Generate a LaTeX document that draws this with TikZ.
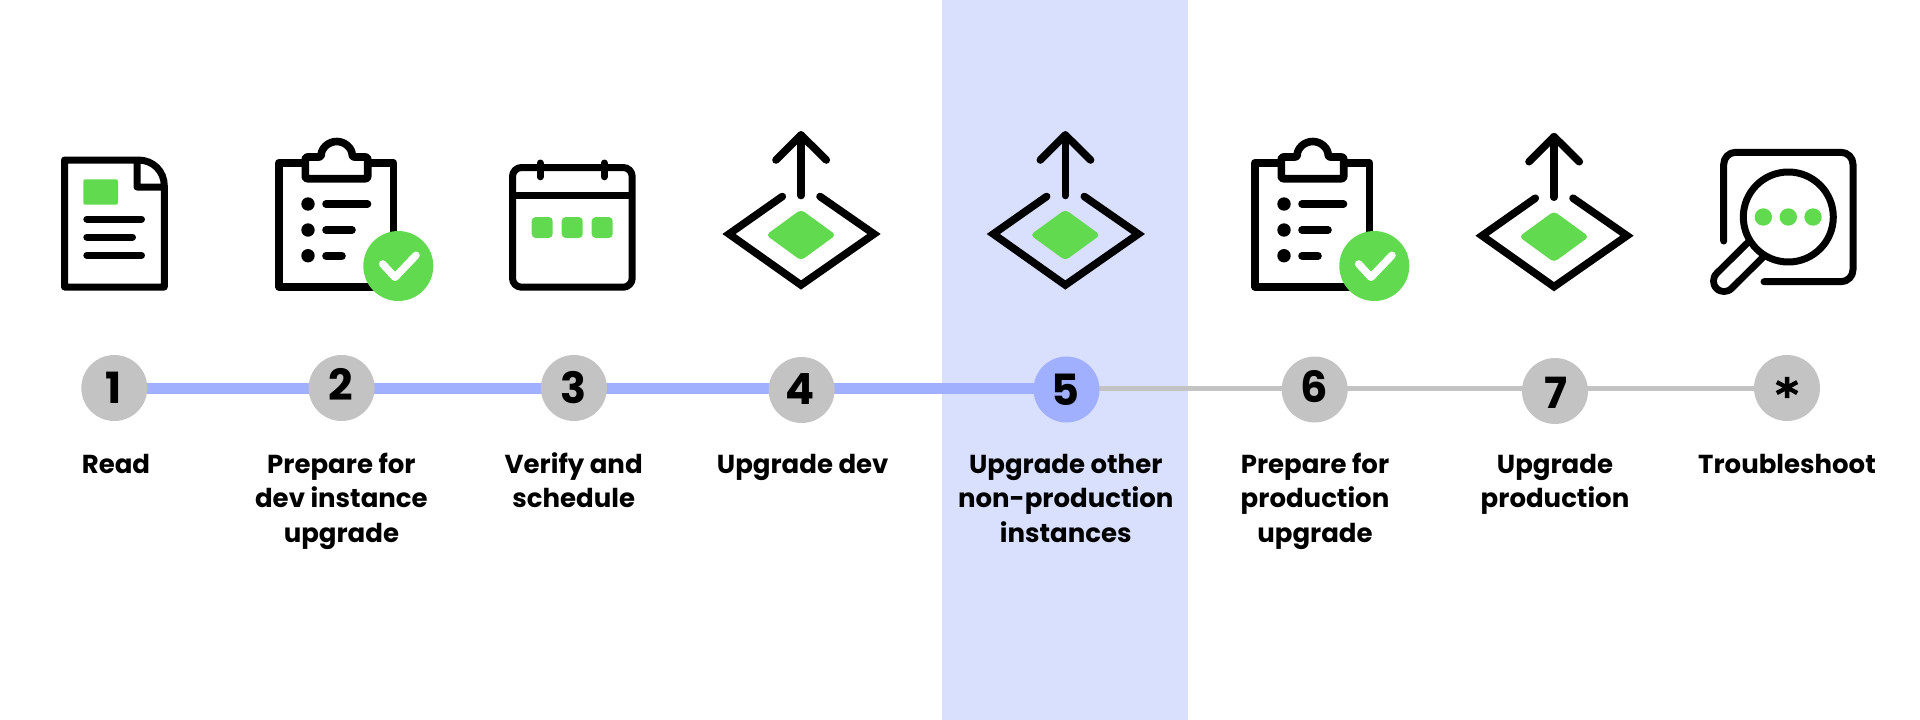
\documentclass[tikz,border=0pt]{standalone}
\usepackage{fontspec}
\setmainfont{Poppins}
\newfontfamily\starfont{DejaVu Sans}[BoldFeatures={FakeBold=2}]
\usetikzlibrary{backgrounds}
\definecolor{band}{HTML}{D9E0FE}
\definecolor{done}{HTML}{A0B0FF}
\definecolor{todo}{HTML}{C3C3C3}
\definecolor{leaf}{HTML}{62DA50}
\tikzset{
  icon/.style={draw=black,line width=7pt,line join=round,line cap=round},
  thin icon/.style={icon,line width=7.6pt},
  greenfill/.style={fill=leaf,draw=none},
  stepdot/.style={circle,fill=todo,draw=none,minimum size=66pt,inner sep=0pt},
  digit/.style={inner sep=0pt,font=\fontsize{43}{43}\selectfont\bfseries},
  caption/.style={inner sep=0pt,anchor=base,align=center,font=\fontsize{26}{34.5}\selectfont\bfseries},
  fatlink/.style={draw=done,line width=11pt},
  slimlink/.style={draw=todo,line width=5pt}
}
\newcommand{\uploadicon}[2]{%
\begin{scope}[shift={(#1,#2)}]
  \draw[thin icon] (801,195.5) -- (801,135);
  \draw[thin icon] (776,160) -- (801,135) -- (826.3,160);
  \draw[thin icon,miter limit=4,line join=miter] (782.3,196.5) -- (729,234) -- (801,285) -- (874,234) -- (820,196.5);
  \fill[greenfill,rounded corners=4pt] (801,209.5) -- (836,235) -- (801,260.5) -- (766,235) -- cycle;
\end{scope}}
\newcommand{\clipicon}[1]{%
\begin{scope}[shift={(#1,0)}]
  \draw[thin icon] (393.3,250) -- (393.3,162.7) -- (279,162.7) -- (279,287) -- (375,287);
  \draw[thin icon,fill=white,rounded corners=2pt] (305.3,178.7) -- (305.3,157) -- (321.2,157) arc[start angle=180,end angle=360,radius=15.5] -- (367.7,157) -- (367.7,178.7) -- cycle;
  \fill (308,204) circle[radius=6.7];
  \fill (308,230) circle[radius=6.7];
  \fill (308,255.7) circle[radius=6.7];
  \draw[thin icon] (326,204) -- (367.5,204);
  \draw[thin icon] (326,230) -- (352,230);
  \draw[thin icon] (326,255.7) -- (342,255.7);
  \fill[greenfill] (398.3,266) circle[radius=35];
  \draw[draw=white,line width=7.5pt,line cap=round,line join=round] (382.7,264) -- (395,277.3) -- (416,255.3);
\end{scope}}
\begin{document}
\begin{tikzpicture}[x=1pt,y=-1pt]
\useasboundingbox (0,0) rectangle (1920,720);

% read icon
\draw[icon] (138,160) -- (64.5,160) -- (64.5,287) -- (164.3,287) -- (164.3,186) .. controls (164.3,171) and (153,160) .. (138,160) -- (137,160) -- (137,187) -- (164.3,187);
\fill[greenfill,rounded corners=2pt] (83.3,179.3) rectangle (118,204.7);
\draw[icon] (86.8,219) -- (141.5,219);
\draw[icon] (86.8,237) -- (132.5,237);
\draw[icon] (86.8,255.3) -- (141.5,255.3);

\clipicon{0}
\clipicon{976}

% calendar icon
\draw[icon,rounded corners=9pt] (512.5,167.5) rectangle (632.2,287.2);
\draw[icon,line cap=butt] (512.5,195) -- (632.2,195);
\draw[icon] (540,163) -- (540,176.8);
\draw[icon] (604.3,163) -- (604.3,176.8);
\fill[greenfill,rounded corners=4pt] (531.7,217) rectangle (552.7,238);
\fill[greenfill,rounded corners=4pt] (561.7,217) rectangle (582.7,238);
\fill[greenfill,rounded corners=4pt] (591.7,217) rectangle (612.7,238);

\uploadicon{0}{0}
\uploadicon{264.3}{0}
\uploadicon{753}{1.7}

% troubleshoot icon
\draw[icon,rounded corners=12pt] (1723.7,241) -- (1723.7,152.3) -- (1853,152.3) -- (1853,281.7) -- (1764,281.7);
\draw[black,line width=28pt,line cap=round] (1756.5,248.8) -- (1724,281);
\draw[white,line width=14pt,line cap=round] (1756.5,248.8) -- (1724,281);
\draw[icon,fill=white] (1788.3,217) circle[radius=45];
\fill[leaf] (1763.3,217) circle[radius=8.7];
\fill[leaf] (1788.3,217) circle[radius=8.7];
\fill[leaf] (1813,217) circle[radius=8.7];

% steps
\coordinate (axis) at (0,388.5);
\node[stepdot] (s1) at (114.3,388) {};
\node[stepdot] (s2) at (341.6,388) {};
\node[stepdot] (s3) at (573.9,388) {};
\node[stepdot] (s4) at (801.6,390) {};
\node[stepdot,fill=done] (s5) at (1066.5,389.5) {};
\node[stepdot] (s6) at (1314.7,389.5) {};
\node[stepdot] (s7) at (1555,391) {};
\node[stepdot] (s8) at (1787,388) {};
\begin{scope}[on background layer]
  \fill[band] (942.4,0) rectangle (1187.7,720);
  \draw[fatlink] (s1 |- axis) -- (s2 |- axis);
  \draw[fatlink] (s2 |- axis) -- (s3 |- axis);
  \draw[fatlink] (s3 |- axis) -- (s4 |- axis);
  \draw[fatlink] (s4 |- axis) -- (s5 |- axis);
  \draw[slimlink] (s5 |- axis) -- (s6 |- axis);
  \draw[slimlink] (s6 |- axis) -- (s7 |- axis);
  \draw[slimlink] (s7 |- axis) -- (s8 |- axis);
\end{scope}
\node[digit] (d1) at (114,387.8) {1};
\node[digit] (d2) at (340.8,384.5) {2};
\node[digit] (d3) at (574,388) {3};
\node[digit] (d4) at (800,388.7) {4};
\node[digit] (d5) at (1065.7,389.7) {5};
\node[digit] (d6) at (1314,387) {6};
\node[digit] (d7) at (1556,392.5) {7};
\node[digit,font=\fontsize{44}{44}\selectfont\starfont\bfseries,anchor=base] (d8) at (1787,410) {*};

\node[caption] (c1) at (116,473) {Read};
\node[caption] (c2) at (341.4,542) {Prepare for\\dev instance\\upgrade};
\node[caption] (c3) at (573.7,507.5) {Verify and\\schedule};
\node[caption] (c4) at (802.7,473) {Upgrade dev};
\node[caption] (c5) at (1065.7,542) {Upgrade other\\non-production\\instances};
\node[caption] (c6) at (1315,542) {Prepare for\\production\\upgrade};
\node[caption] (c7) at (1555,507.5) {Upgrade\\production};
\node[caption] (c8) at (1787,473) {Troubleshoot};
\end{tikzpicture}
\end{document}
